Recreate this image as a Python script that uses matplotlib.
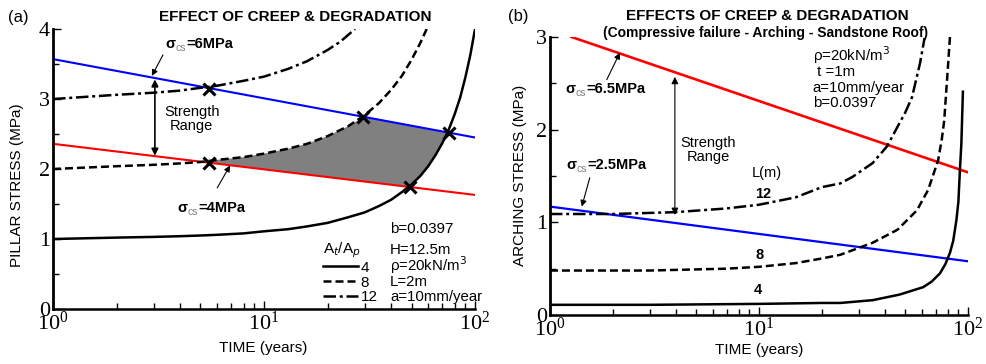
import numpy as np
import matplotlib.pyplot as plt
from matplotlib.lines import Line2D
from matplotlib.ticker import NullFormatter

plt.rcParams['font.family'] = ['Liberation Sans', 'DejaVu Sans']

# ---- (a) pillar stress vs time, for At/Ap = 4, 8, 12 ----
t4_a = [1, 2, 3, 4, 5, 6, 8, 10, 13, 16, 20, 25, 30, 35, 40, 45, 50, 55, 60, 65, 70, 75, 80, 85, 90, 95, 100]
s4_a = [1.00, 1.02, 1.03, 1.04, 1.05, 1.06, 1.08, 1.11, 1.14, 1.18, 1.23, 1.31, 1.38, 1.47, 1.56, 1.67,
        1.78, 1.90, 2.04, 2.20, 2.37, 2.56, 2.78, 3.02, 3.31, 3.63, 4.00]
t8_a = [1, 2, 3, 4, 5, 6, 8, 10, 13, 16, 20, 25, 30, 35, 40, 45, 50, 55, 59]
s8_a = [2.00, 2.04, 2.06, 2.08, 2.10, 2.13, 2.17, 2.22, 2.29, 2.36, 2.47, 2.61, 2.77, 2.94, 3.13, 3.33,
        3.56, 3.80, 4.00]
t12_a = [1, 2, 3, 4, 5, 6, 8, 10, 13, 16, 20, 23, 27]
s12_a = [3.00, 3.06, 3.09, 3.12, 3.16, 3.19, 3.26, 3.32, 3.43, 3.54, 3.70, 3.82, 4.00]
# strength lines (sigma_cs = 6 and 4 MPa)
tline_a = [1, 100]
blue_a = [3.57, 2.45]
red_a = [2.36, 1.63]
# crossing points marked with X
cross_t = [5.5, 5.5, 29.5, 49, 75]
cross_s = [3.15, 2.09, 2.74, 1.75, 2.52]

# ---- (b) arching stress vs time, for L = 4, 8, 12 m ----
t4_b = [1, 3, 10, 20, 24.5, 35, 47, 61, 67, 73.5, 78, 82, 85, 88, 90, 91.5, 93, 94.6]
s4_b = [0.11, 0.11, 0.12, 0.13, 0.13, 0.16, 0.22, 0.30, 0.36, 0.45, 0.55, 0.67, 0.80, 1.02, 1.22, 1.56, 1.85, 2.41]
t8_b = [1, 3, 7, 10, 15, 20, 24.5, 35, 46, 57, 64.5, 72, 75, 77, 80, 82]
s8_b = [0.48, 0.48, 0.50, 0.52, 0.56, 0.61, 0.65, 0.78, 0.92, 1.13, 1.35, 1.67, 1.90, 2.10, 2.64, 3.00]
t12_b = [1, 2, 4, 7, 10, 15, 20, 24.5, 28, 35, 41, 46, 50, 54, 59, 62]
s12_b = [1.09, 1.09, 1.11, 1.15, 1.19, 1.27, 1.38, 1.42, 1.49, 1.64, 1.82, 2.03, 2.18, 2.35, 2.72, 2.99]
tblue_b = [1, 100]
blue_b = [1.17, 0.58]
tred_b = [1.27, 100]
red_b = [3.00, 1.54]

LW = 1.8
DASH = (0, (3.2, 1.6))
DASHDOT = (0, (5, 1.5, 1.2, 1.5))

fig = plt.figure(figsize=(9.87, 3.64), dpi=100)
ax1 = fig.add_axes([0.0537, 0.1511, 0.4276, 0.7692])
ax2 = fig.add_axes([0.5572, 0.1346, 0.4235, 0.7637])


def style_axis(ax, ymax):
    ax.set_xscale('log')
    ax.set_xlim(1, 100)
    ax.set_ylim(0, ymax)
    ax.set_yticks(range(ymax + 1))
    ax.set_yticks(np.arange(0.5, ymax, 1), minor=True)
    ax.xaxis.set_minor_formatter(NullFormatter())
    for s in ['top', 'right']:
        ax.spines[s].set_visible(False)
    ax.spines['left'].set_linewidth(2)
    ax.spines['bottom'].set_linewidth(1.8)
    ax.tick_params(which='both', direction='in', width=1, color='k')
    ax.tick_params(which='major', length=6, labelsize=16, labelfontfamily='Liberation Serif', pad=2)
    ax.tick_params(which='minor', length=4)


def sigma_label(ax, x, y, value):
    # sigma, grey "cs" subscript, then "=value"
    t1 = ax.text(x, y, 'σ', fontsize=10.5, fontweight='bold', va='center')
    t2 = ax.annotate('cs', xy=(1, 0), xycoords=t1, xytext=(0.3, -1.5), textcoords='offset points',
                     fontsize=7.5, color='#808080', va='bottom')
    ax.annotate('=' + value, xy=(1, 0), xycoords=(t2, t1), xytext=(0.3, 0), textcoords='offset points',
                fontsize=10.5, fontweight='bold', va='bottom')


# ---------------- panel (a) ----------------
style_axis(ax1, 4)
t8 = np.array(t8_a)
s8 = np.array(s8_a)
t4 = np.array(t4_a)
s4 = np.array(s4_a)
m8 = (t8 > cross_t[1]) & (t8 < cross_t[2])
m4 = (t4 > cross_t[3]) & (t4 < cross_t[4])
poly_t = [cross_t[1], *t8[m8], cross_t[2], cross_t[4], *t4[m4][::-1], cross_t[3]]
poly_s = [cross_s[1], *s8[m8], cross_s[2], cross_s[4], *s4[m4][::-1], cross_s[3]]
ax1.fill(poly_t, poly_s, color='#808080', lw=0, zorder=1)

ax1.plot(tline_a, blue_a, color='#0000ff', lw=1.5, zorder=2)
ax1.plot(tline_a, red_a, color='#ff0000', lw=1.5, zorder=2)
ax1.plot(t4_a, s4_a, color='k', lw=LW, ls='-', zorder=3)
ax1.plot(t8_a, s8_a, color='k', lw=LW, ls=DASH, zorder=3)
ax1.plot(t12_a, s12_a, color='k', lw=LW, ls=DASHDOT, zorder=3)
ax1.plot(cross_t, cross_s, ls='none', marker='x', ms=8, mew=2.2, color='k', zorder=4)

arr = dict(arrowstyle='-|>', color='k', lw=0.8, mutation_scale=9, shrinkA=0, shrinkB=0)
sigma_label(ax1, 3.4, 3.79, '6MPa')
ax1.annotate('', xy=(2.94, 3.33), xytext=(3.32, 3.63), arrowprops=arr)
sigma_label(ax1, 3.87, 1.44, '4MPa')
ax1.annotate('', xy=(6.9, 2.05), xytext=(6.0, 1.73), arrowprops=arr)
ax1.annotate('', xy=(3.04, 3.28), xytext=(3.04, 2.19),
             arrowprops=dict(arrowstyle='<|-|>', color='k', lw=1.2, mutation_scale=10, shrinkA=0, shrinkB=0))
ax1.text(4.55, 2.72, 'Strength\nRange', fontsize=10.5, ha='center', va='center', linespacing=1.0)

params_a = ['b=0.0397', 'H=12.5m', 'ρ=20kN/m$^3$', 'L=2m', 'a=10mm/year']
params_ya = [1.14, 0.85, 0.62, 0.39, 0.17]
for txt, y in zip(params_a, params_ya):
    ax1.text(39.6, y, txt, fontsize=10.8, va='center')

handles = [Line2D([], [], color='k', lw=LW, ls='-'),
           Line2D([], [], color='k', lw=LW, ls=DASH),
           Line2D([], [], color='k', lw=LW, ls=DASHDOT)]
ax1.legend(handles, ['4', '8', '12'], title='A$_t$/A$_p$', loc='upper left', bbox_to_anchor=(0.64, 0.245),
           frameon=False, fontsize=11, title_fontsize=11, handlelength=2.3, handletextpad=0.15,
           labelspacing=0.05, borderpad=0, borderaxespad=0, alignment='left')

# ---------------- panel (b) ----------------
style_axis(ax2, 3)
ax2.plot(tred_b, red_b, color='#ff0000', lw=1.9, zorder=2)
ax2.plot(tblue_b, blue_b, color='#0000ff', lw=1.6, zorder=2)
ax2.plot(t4_b, s4_b, color='k', lw=LW, ls='-', zorder=3)
ax2.plot(t8_b, s8_b, color='k', lw=LW, ls=DASH, zorder=3)
ax2.plot(t12_b, s12_b, color='k', lw=LW, ls=DASHDOT, zorder=3)

sigma_label(ax2, 1.18, 2.44, '6.5MPa')
ax2.annotate('', xy=(2.16, 2.83), xytext=(1.87, 2.54), arrowprops=arr)
sigma_label(ax2, 1.2, 1.62, '2.5MPa')
ax2.annotate('', xy=(1.42, 1.17), xytext=(1.55, 1.48), arrowprops=arr)
ax2.annotate('', xy=(3.96, 2.57), xytext=(3.96, 1.08),
             arrowprops=dict(arrowstyle='<|-|>', color='k', lw=0.8, mutation_scale=10, shrinkA=0, shrinkB=0))
ax2.text(5.7, 1.78, 'Strength\nRange', fontsize=10.5, ha='center', va='center', linespacing=1.0)

params_b = ['ρ=20kN/m$^3$', ' t =1m', 'a=10mm/year', 'b=0.0397']
params_yb = [2.80, 2.625, 2.455, 2.285]
for txt, y in zip(params_b, params_yb):
    ax2.text(18.1, y, txt, fontsize=10.8, va='center')

ax2.text(10.9, 1.53, 'L(m)', fontsize=10.5, ha='center', va='center')
for lab, x, y in zip(['12', '8', '4'], [10.5, 10.1, 9.9], [1.31, 0.65, 0.27]):
    ax2.text(x, y, lab, fontsize=10.5, fontweight='bold', ha='center', va='center')

# ---------------- titles and axis labels ----------------
fig.text(0.008, 0.953, '(a)', fontsize=12, va='center')
fig.text(0.299, 0.953, 'EFFECT OF CREEP & DEGRADATION', fontsize=11, fontweight='bold', ha='center', va='center')
fig.text(0.515, 0.956, '(b)', fontsize=12, va='center')
fig.text(0.777, 0.956, 'EFFECTS OF CREEP & DEGRADATION', fontsize=11, fontweight='bold', ha='center', va='center')
fig.text(0.776, 0.909, '(Compressive failure - Arching - Sandstone Roof)', fontsize=10, fontweight='bold',
         ha='center', va='center')
fig.text(0.017, 0.492, 'PILLAR STRESS (MPa)', fontsize=11, rotation=90, ha='center', va='center')
fig.text(0.527, 0.519, 'ARCHING STRESS (MPa)', fontsize=11, rotation=90, ha='center', va='center')
fig.text(0.2665, 0.044, 'TIME (years)', fontsize=11, ha='center', va='center')
fig.text(0.769, 0.038, 'TIME (years)', fontsize=11, ha='center', va='center')

fig.savefig('out.png', dpi=100)
